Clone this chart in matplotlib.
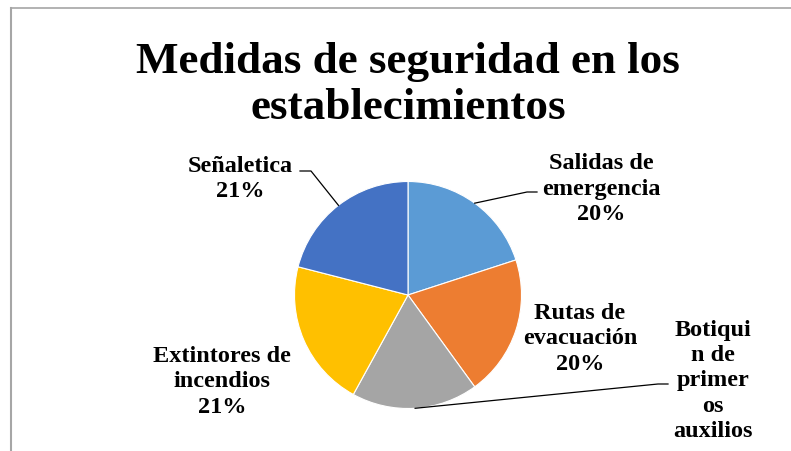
import numpy as np
import matplotlib.pyplot as plt
from matplotlib.lines import Line2D

# datos
categorias = ["Salidas de\nemergencia", "Rutas de\nevacuación",
              "Botiqui\nn de\nprimer\nos\nauxilios",
              "Extintores de\nincendios", "Señaletica"]
valores = [20, 20, 18, 21, 21]
colores = ["#5B9BD5", "#ED7D31", "#A5A5A5", "#FFC000", "#4472C4"]
# la etiqueta del botiquín queda cortada en el original: sin porcentaje visible
mostrar_pct = [True, True, False, True, True]

W, H = 791, 452
cx, cy, r = 408, 296, 113.5  # centro y radio del pastel (px)

fig = plt.figure(figsize=(W / 100, H / 100), dpi=100)
ax = fig.add_axes([(cx - r) / W, (H - cy - r) / H, 2 * r / W, 2 * r / H])
wedges, _ = ax.pie(valores, colors=colores, startangle=90, counterclock=False,
                   wedgeprops=dict(edgecolor="white", linewidth=0.8))
ax.set_xlim(-1, 1)
ax.set_ylim(-1, 1)
ax.axis("off")


def px2d(x, y):
    return (x - cx) / r, (cy - y) / r


fuente = ["Liberation Serif", "DejaVu Serif"]
total = sum(valores)
# posiciones de etiquetas (px) y puntos del conector (None = sin línea)
pos = [(601, 189), (580, 339), (713, 381), (222, 382), (240, 179)]
guias = [[(527, 193), (537, 193)], None, [(658, 385), (668, 385)], None,
         [(311, 172), (300, 172)]]

for w, cat, v, p, g, m in zip(wedges, categorias, valores, pos, guias, mostrar_pct):
    pct = round(100 * v / total)
    txt = f"{cat}\n{pct}%" if m else cat
    x, y = px2d(*p)
    ax.text(x, y, txt, ha="center", va="center", fontsize=17.5,
            fontweight="bold", family=fuente, linespacing=1.28, clip_on=False)
    if g:
        ang = np.deg2rad((w.theta1 + w.theta2) / 2)
        xs = [np.cos(ang)] + [px2d(*q)[0] for q in g]
        ys = [np.sin(ang)] + [px2d(*q)[1] for q in g]
        ax.plot(xs, ys, color="black", linewidth=0.9, clip_on=False)

fig.text(408 / W, 1 - 85 / H, "Medidas de seguridad en los\nestablecimientos",
         ha="center", va="center", fontsize=32.5, fontweight="bold",
         family=fuente, linespacing=1.2)

# borde del gráfico
fig.add_artist(Line2D([11 / W, 1], [1 - 9 / H, 1 - 9 / H], color="#A6A6A6",
                      linewidth=1.2, transform=fig.transFigure))
fig.add_artist(Line2D([11 / W, 11 / W], [0, 1 - 9 / H], color="#A6A6A6",
                      linewidth=1.5, transform=fig.transFigure))

fig.savefig("out.png", dpi=100)
